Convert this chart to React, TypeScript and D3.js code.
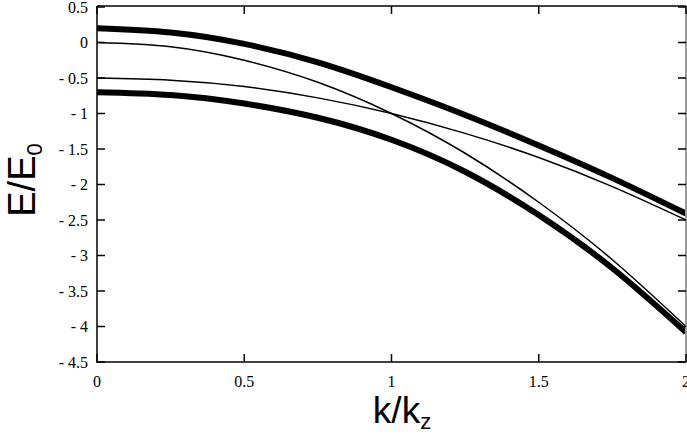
import React, { useRef, useEffect } from 'react';
import * as d3 from 'd3';

// wave vector k/kz
const kValues = [0, 0.25, 0.5, 0.75, 1, 1.25, 1.5, 1.75, 2];
// bare bands (thin lines)
const bareUpper = [0, -0.06, -0.25, -0.56, -1.0, -1.56, -2.25, -3.06, -4.0];
const bareLower = [-0.5, -0.53, -0.62, -0.78, -1.0, -1.28, -1.62, -2.03, -2.5];
// coupled bands (thick lines)
const coupledUpper = [0.2, 0.14, -0.02, -0.28, -0.63, -1.02, -1.45, -1.91, -2.41];
const coupledLower = [-0.7, -0.74, -0.86, -1.06, -1.37, -1.82, -2.43, -3.18, -4.08];

const xTicks = [0, 0.5, 1, 1.5, 2];
const yTicks = [0.5, 0, -0.5, -1, -1.5, -2, -2.5, -3, -3.5, -4, -4.5];

const fmt = (v: number) => (v < 0 ? '- ' + String(-v) : String(v));

const SERIF = 'Liberation Serif, Times New Roman, DejaVu Serif, serif';
const SANS = 'Liberation Sans, Arial, sans-serif';

const App = () => {
  const svgRef = useRef<SVGSVGElement>(null);

  useEffect(() => {
    const svg = d3.select(svgRef.current);
    svg.selectAll('*').remove();

    const left = 97, right = 686, top = 7, bottom = 362;

    const x = d3.scaleLinear().domain([0, 2]).range([left, right]);
    const y = d3.scaleLinear().domain([-4.5, 0.5]).range([bottom, top]);

    const line = d3.line<number>()
      .x((d, i) => x(kValues[i]))
      .y(d => y(d))
      .curve(d3.curveNatural);

    const series = [
      { data: coupledUpper, w: 6 },
      { data: coupledLower, w: 6 },
      { data: bareUpper, w: 1.5 },
      { data: bareLower, w: 1.5 },
    ];

    const plot = svg.append('g');
    series.forEach(s => {
      plot.append('path')
        .datum(s.data)
        .attr('fill', 'none')
        .attr('stroke', '#000')
        .attr('stroke-width', s.w)
        .attr('d', line);
    });

    // frame
    svg.append('line').attr('x1', left).attr('x2', left).attr('y1', top - 1).attr('y2', bottom + 1)
      .attr('stroke', '#000').attr('stroke-width', 1.5);
    svg.append('line').attr('x1', left).attr('x2', right).attr('y1', bottom).attr('y2', bottom)
      .attr('stroke', '#000').attr('stroke-width', 1.5);
    svg.append('line').attr('x1', left).attr('x2', right).attr('y1', top - 1).attr('y2', top - 1)
      .attr('stroke', '#000').attr('stroke-width', 1.5);
    svg.append('line').attr('x1', right).attr('x2', right).attr('y1', top - 1).attr('y2', bottom + 1)
      .attr('stroke', '#999').attr('stroke-width', 2);

    const tl = 8;
    // y ticks
    yTicks.forEach(t => {
      svg.append('line').attr('x1', left).attr('x2', left + tl).attr('y1', y(t)).attr('y2', y(t))
        .attr('stroke', '#000').attr('stroke-width', 1.5);
      svg.append('line').attr('x1', right - tl).attr('x2', right).attr('y1', y(t)).attr('y2', y(t))
        .attr('stroke', '#000').attr('stroke-width', 1.5);
      svg.append('text')
        .attr('x', left - 9)
        .attr('y', y(t))
        .attr('dy', '0.35em')
        .attr('text-anchor', 'end')
        .style('font-family', SERIF)
        .style('font-size', '16px')
        .text(fmt(t));
    });

    // x ticks
    xTicks.forEach(t => {
      svg.append('line').attr('x1', x(t)).attr('x2', x(t)).attr('y1', bottom).attr('y2', bottom - tl)
        .attr('stroke', '#000').attr('stroke-width', 1.5);
      svg.append('line').attr('x1', x(t)).attr('x2', x(t)).attr('y1', top - 1).attr('y2', top - 1 + tl)
        .attr('stroke', '#000').attr('stroke-width', 1.5);
      svg.append('text')
        .attr('x', x(t))
        .attr('y', bottom + 25)
        .attr('text-anchor', 'middle')
        .style('font-family', SERIF)
        .style('font-size', '16px')
        .text(String(t));
    });

    // axis titles
    const xt = svg.append('text')
      .attr('x', 402)
      .attr('y', 423)
      .attr('text-anchor', 'middle')
      .style('font-family', SANS)
      .style('font-size', '37px');
    xt.append('tspan').text('k/k');
    xt.append('tspan').style('font-size', '22px').attr('dy', 6).text('z');

    const yt = svg.append('text')
      .attr('transform', 'translate(35,180) rotate(-90)')
      .attr('text-anchor', 'middle')
      .style('font-family', SANS)
      .style('font-size', '38px');
    yt.append('tspan').text('E/E');
    yt.append('tspan').style('font-size', '22px').attr('dy', 7).text('0');
  }, []);

  return (
    <svg
      ref={svgRef}
      width={687}
      height={434}
      style={{ position: 'absolute', left: 0, top: 0, background: '#fff' }}
    />
  );
};

export default App;
